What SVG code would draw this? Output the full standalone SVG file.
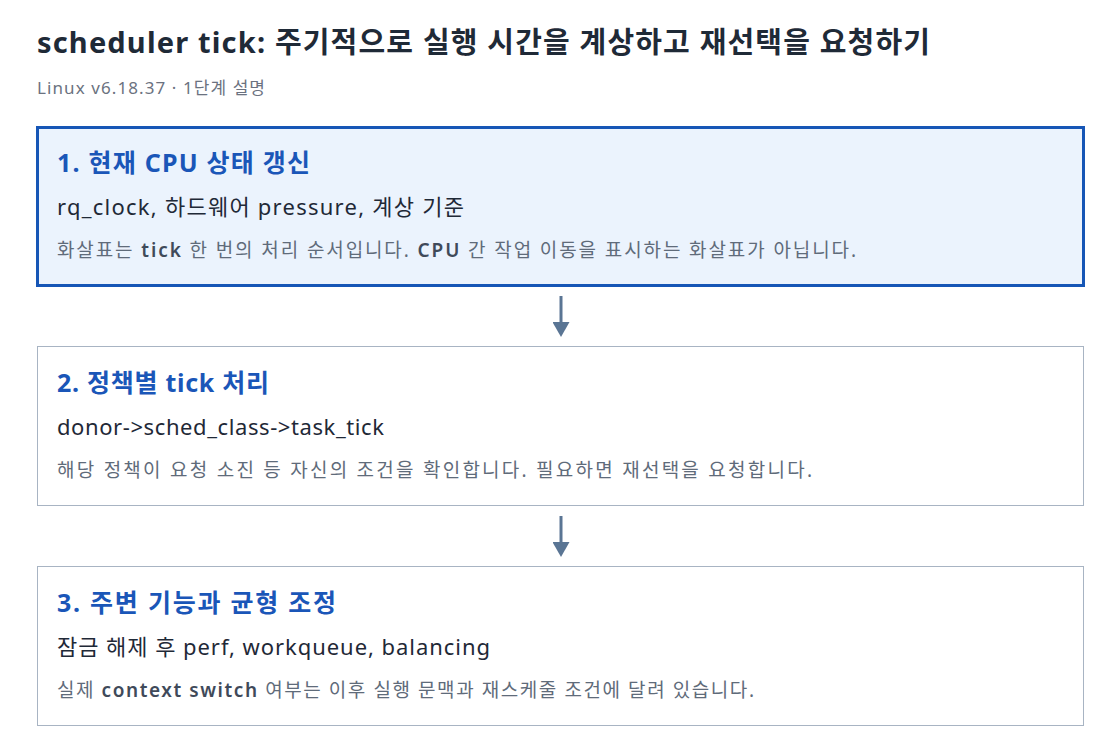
<svg xmlns="http://www.w3.org/2000/svg" width="1120" height="754" viewBox="0 0 1120 754">
  <defs>
    <style>
      .t { font-family: "Noto Sans", "Noto Sans CJK KR", sans-serif; }
      .title { font-size: 29px; font-weight: 700; fill: #1f2a37; }
      .sub { font-size: 17px; fill: #6b7280; }
      .h { font-size: 25px; font-weight: 700; fill: #1a56b8; }
      .l2 { font-size: 22px; fill: #1f2937; }
      .l3 { font-size: 19px; fill: #5f6b7a; }
      .l3 .en { font-weight: 600; fill: #3f4a5a; }
      .box { fill: #ffffff; stroke: #a8b4c3; stroke-width: 1; }
      .box.active { fill: #ebf3fd; stroke: #1656b6; stroke-width: 3; }
      .conn { stroke: #5a7594; stroke-width: 3; fill: none; }
    </style>
    <marker id="arrow" viewBox="0 0 15 17" refX="1" refY="8.5" markerWidth="15" markerHeight="17" markerUnits="userSpaceOnUse" orient="auto">
      <path d="M0,0 L15,8.5 L0,17 Z" fill="#5a7594"/>
    </marker>
  </defs>
  <rect width="1120" height="754" fill="#ffffff"/>
  <text class="t title" x="37" y="53" textLength="893" lengthAdjust="spacing">scheduler tick: 주기적으로 실행 시간을 계상하고 재선택을 요청하기</text>
  <text class="t sub" x="37" y="94" textLength="228" lengthAdjust="spacing">Linux v6.18.37 · 1단계 설명</text>

  <g id="connectors">
    <line class="conn" x1="561" y1="296" x2="561" y2="323" marker-end="url(#arrow)"/>
    <line class="conn" x1="561" y1="516" x2="561" y2="543" marker-end="url(#arrow)"/>
  </g>

  <g id="step1">
    <rect class="box active" x="37.5" y="127.5" width="1046" height="158"/>
    <text class="t h" x="57" y="172" textLength="253" lengthAdjust="spacing">1. 현재 CPU 상태 갱신</text>
    <text class="t l2" x="57" y="215" textLength="407" lengthAdjust="spacing">rq_clock, 하드웨어 pressure, 계상 기준</text>
    <text class="t l3" x="57" y="257" textLength="799" lengthAdjust="spacing">화살표는 <tspan class="en">tick</tspan> 한 번의 처리 순서입니다. <tspan class="en">CPU</tspan> 간 작업 이동을 표시하는 화살표가 아닙니다.</text>
  </g>
  <g id="step2">
    <rect class="box" x="37.5" y="346.5" width="1046" height="159"/>
    <text class="t h" x="57" y="392" textLength="212" lengthAdjust="spacing">2. 정책별 tick 처리</text>
    <text class="t l2" x="57" y="435" textLength="327" lengthAdjust="spacing">donor-&gt;sched_class-&gt;task_tick</text>
    <text class="t l3" x="57" y="477" textLength="755" lengthAdjust="spacing">해당 정책이 요청 소진 등 자신의 조건을 확인합니다. 필요하면 재선택을 요청합니다.</text>
  </g>
  <g id="step3">
    <rect class="box" x="37.5" y="566.5" width="1046" height="159"/>
    <text class="t h" x="57" y="612" textLength="279" lengthAdjust="spacing">3. 주변 기능과 균형 조정</text>
    <text class="t l2" x="57" y="655" textLength="433" lengthAdjust="spacing">잠금 해제 후 perf, workqueue, balancing</text>
    <text class="t l3" x="57" y="697" textLength="697" lengthAdjust="spacing">실제 <tspan class="en">context switch</tspan> 여부는 이후 실행 문맥과 재스케줄 조건에 달려 있습니다.</text>
  </g>
</svg>
